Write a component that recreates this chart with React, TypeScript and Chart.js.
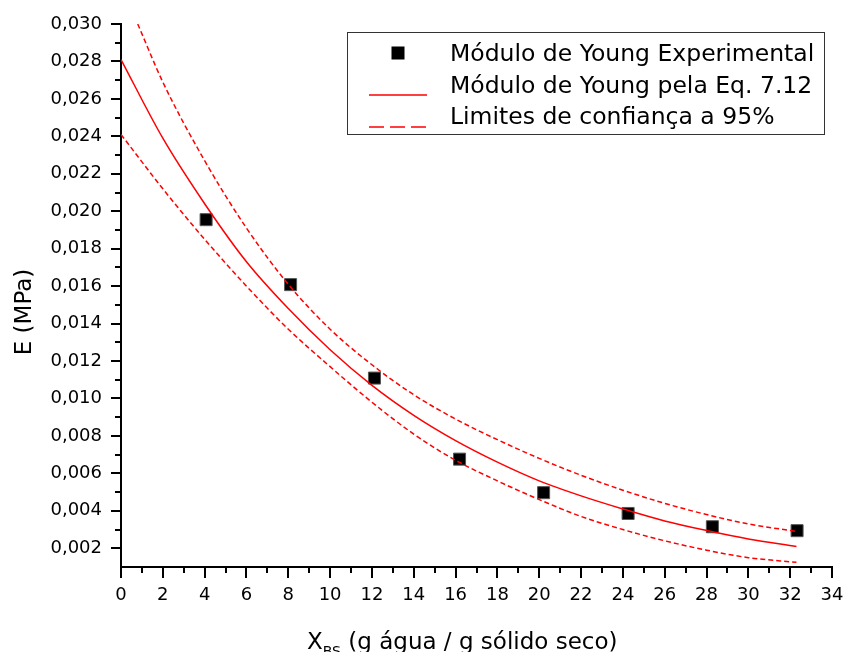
import { useEffect, useRef } from 'react';
import { Chart, registerables } from 'chart.js';

Chart.register(...registerables);

// ---- data ----
const xExp = [4.07, 8.11, 12.12, 16.19, 20.21, 24.25, 28.28, 32.33];
const yExp = [0.01955, 0.01608, 0.01109, 0.00676, 0.00497, 0.00386, 0.00315, 0.00294];

const xFit = [0, 2, 4, 6, 8, 10, 12, 14, 16, 18, 20, 22, 24, 26, 28, 30, 32.3];
const yFit = [0.0281, 0.0239, 0.0204, 0.0173, 0.0148, 0.0126, 0.0107, 0.0091, 0.00775, 0.0066, 0.0056, 0.0048, 0.0041, 0.00346, 0.00295, 0.0025, 0.0021];

const xUpper = [0.8, 2, 4, 6, 8, 10, 12, 14, 16, 18, 20, 22, 24, 26, 28, 30, 32.3];
const yUpper = [0.0300, 0.0269, 0.0227, 0.0191, 0.0161, 0.0137, 0.0118, 0.0102, 0.0089, 0.0078, 0.0068, 0.0059, 0.0051, 0.0044, 0.0038, 0.0033, 0.0029];

const xLower = [0, 2, 4, 6, 8, 10, 12, 14, 16, 18, 20, 22, 24, 26, 28, 30, 32.3];
const yLower = [0.0241, 0.0212, 0.0185, 0.0160, 0.0137, 0.0117, 0.0098, 0.0081, 0.0067, 0.0056, 0.0046, 0.0037, 0.0030, 0.0024, 0.0019, 0.0015, 0.00125];

const xTicks = [0, 2, 4, 6, 8, 10, 12, 14, 16, 18, 20, 22, 24, 26, 28, 30, 32, 34];
const xMinorTicks = [1, 3, 5, 7, 9, 11, 13, 15, 17, 19, 21, 23, 25, 27, 29, 31, 33];
const yTicks = [0.002, 0.004, 0.006, 0.008, 0.010, 0.012, 0.014, 0.016, 0.018, 0.020, 0.022, 0.024, 0.026, 0.028, 0.030];
const yMinorTicks = [0.003, 0.005, 0.007, 0.009, 0.011, 0.013, 0.015, 0.017, 0.019, 0.021, 0.023, 0.025, 0.027, 0.029];

const seriesLabels = ['Módulo de Young Experimental', 'Módulo de Young pela Eq. 7.12', 'Limites de confiança a 95%'];
const yTitle = 'E (MPa)';
const xTitleMain = 'X';
const xTitleSub = 'BS';
const xTitleRest = ' (g água / g sólido seco)';

const FAMILY = '"DejaVu Sans", sans-serif';
const RED = '#ff0000';

const toPoints = (xs: number[], ys: number[]) => xs.map((x, i) => ({ x, y: ys[i] }));

const decorPlugin = {
  id: 'decor',
  afterDraw(chart: any) {
    const ctx: CanvasRenderingContext2D = chart.ctx;
    const xs = chart.scales.x;
    const ys = chart.scales.y;
    const { left, bottom } = chart.chartArea;
    ctx.save();
    // minor ticks
    ctx.strokeStyle = '#000';
    ctx.lineWidth = 2;
    xMinorTicks.forEach((v) => {
      const px = Math.round(xs.getPixelForValue(v));
      ctx.beginPath();
      ctx.moveTo(px, bottom);
      ctx.lineTo(px, bottom + 6);
      ctx.stroke();
    });
    yMinorTicks.forEach((v) => {
      const py = Math.round(ys.getPixelForValue(v));
      ctx.beginPath();
      ctx.moveTo(left - 6, py);
      ctx.lineTo(left, py);
      ctx.stroke();
    });

    // axis titles
    ctx.fillStyle = '#000';
    ctx.textBaseline = 'alphabetic';
    ctx.save();
    ctx.translate(31, 312);
    ctx.rotate(-Math.PI / 2);
    ctx.textAlign = 'center';
    ctx.font = `23px ${FAMILY}`;
    ctx.fillText(yTitle, 0, 0);
    ctx.restore();

    ctx.textAlign = 'left';
    let tx = 307;
    ctx.font = `23px ${FAMILY}`;
    ctx.fillText(xTitleMain, tx, 649);
    tx += ctx.measureText(xTitleMain).width;
    ctx.font = `14px ${FAMILY}`;
    ctx.fillText(xTitleSub, tx, 656);
    tx += ctx.measureText(xTitleSub).width;
    ctx.font = `23px ${FAMILY}`;
    ctx.fillText(xTitleRest, tx, 649);

    // legend
    ctx.fillStyle = '#fff';
    ctx.fillRect(347, 32, 478, 102);
    ctx.strokeStyle = '#333';
    ctx.lineWidth = 1;
    ctx.strokeRect(347.5, 32.5, 477, 102);

    ctx.fillStyle = '#000';
    ctx.fillRect(391.5, 46.5, 13, 13);

    ctx.strokeStyle = RED;
    ctx.lineWidth = 1.5;
    ctx.beginPath();
    ctx.moveTo(369, 95);
    ctx.lineTo(427, 95);
    ctx.stroke();
    ctx.setLineDash([15, 6]);
    ctx.beginPath();
    ctx.moveTo(369, 127);
    ctx.lineTo(427, 127);
    ctx.stroke();
    ctx.setLineDash([]);

    ctx.fillStyle = '#000';
    ctx.font = `23.5px ${FAMILY}`;
    ctx.textAlign = 'left';
    ctx.fillText(seriesLabels[0], 450, 61);
    ctx.fillText(seriesLabels[1], 450, 92.5);
    ctx.fillText(seriesLabels[2], 450, 124);
    ctx.restore();
  },
};

export default function App() {
  const ref = useRef<HTMLCanvasElement | null>(null);

  useEffect(() => {
    const canvas = ref.current;
    if (!canvas) return;
    const chart = new Chart(canvas, {
      type: 'scatter',
      data: {
        datasets: [
          {
            label: seriesLabels[1],
            data: toPoints(xFit, yFit),
            showLine: true,
            borderColor: RED,
            borderWidth: 1.5,
            pointRadius: 0,
            cubicInterpolationMode: 'monotone',
            order: 0,
          },
          {
            label: seriesLabels[2],
            data: toPoints(xUpper, yUpper),
            showLine: true,
            borderColor: RED,
            borderWidth: 1.5,
            borderDash: [5, 3],
            pointRadius: 0,
            cubicInterpolationMode: 'monotone',
            order: 0,
          },
          {
            label: seriesLabels[2],
            data: toPoints(xLower, yLower),
            showLine: true,
            borderColor: RED,
            borderWidth: 1.5,
            borderDash: [5, 3],
            pointRadius: 0,
            cubicInterpolationMode: 'monotone',
            order: 0,
          },
          {
            label: seriesLabels[0],
            data: toPoints(xExp, yExp),
            showLine: false,
            pointStyle: 'rect',
            pointRadius: 8.5,
            backgroundColor: '#000',
            borderColor: '#555',
            borderWidth: 1,
            order: 1,
          },
        ],
      } as any,
      options: {
        responsive: false,
        animation: false,
        devicePixelRatio: 1,
        layout: { padding: { left: 0, top: 24, right: 13, bottom: 0 } },
        plugins: { legend: { display: false }, tooltip: { enabled: false } },
        scales: {
          x: {
            type: 'linear',
            position: 'bottom',
            min: 0,
            max: 34,
            afterBuildTicks: (s: any) => {
              s.ticks = xTicks.map((v) => ({ value: v }));
            },
            afterFit: (s: any) => {
              s.height = 85;
              s.paddingLeft = 0;
              s.paddingRight = 0;
            },
            ticks: {
              autoSkip: false,
              maxRotation: 0,
              color: '#000',
              padding: 7,
              font: { family: FAMILY, size: 18 },
              callback: (v: any) => String(v),
            },
            grid: { drawOnChartArea: false, drawTicks: true, tickLength: 11, color: '#000', lineWidth: 2 },
            border: { display: true, color: '#000', width: 2 },
          },
          y: {
            type: 'linear',
            position: 'left',
            min: 0.001,
            max: 0.03,
            afterBuildTicks: (s: any) => {
              s.ticks = yTicks.map((v) => ({ value: v }));
            },
            afterFit: (s: any) => {
              s.width = 121;
              s.paddingTop = 0;
              s.paddingBottom = 0;
            },
            ticks: {
              autoSkip: false,
              color: '#000',
              padding: 9,
              font: { family: FAMILY, size: 18 },
              callback: (v: any) => Number(v).toFixed(3).replace('.', ','),
            },
            grid: { drawOnChartArea: false, drawTicks: true, tickLength: 10, color: '#000', lineWidth: 2 },
            border: { display: true, color: '#000', width: 2 },
          },
        },
      } as any,
      plugins: [decorPlugin],
    });
    return () => chart.destroy();
  }, []);

  return (
    <div style={{ position: 'absolute', left: 0, top: 0, width: 845, height: 652, background: '#fff' }}>
      <canvas ref={ref} width={845} height={652} style={{ display: 'block' }} />
    </div>
  );
}
